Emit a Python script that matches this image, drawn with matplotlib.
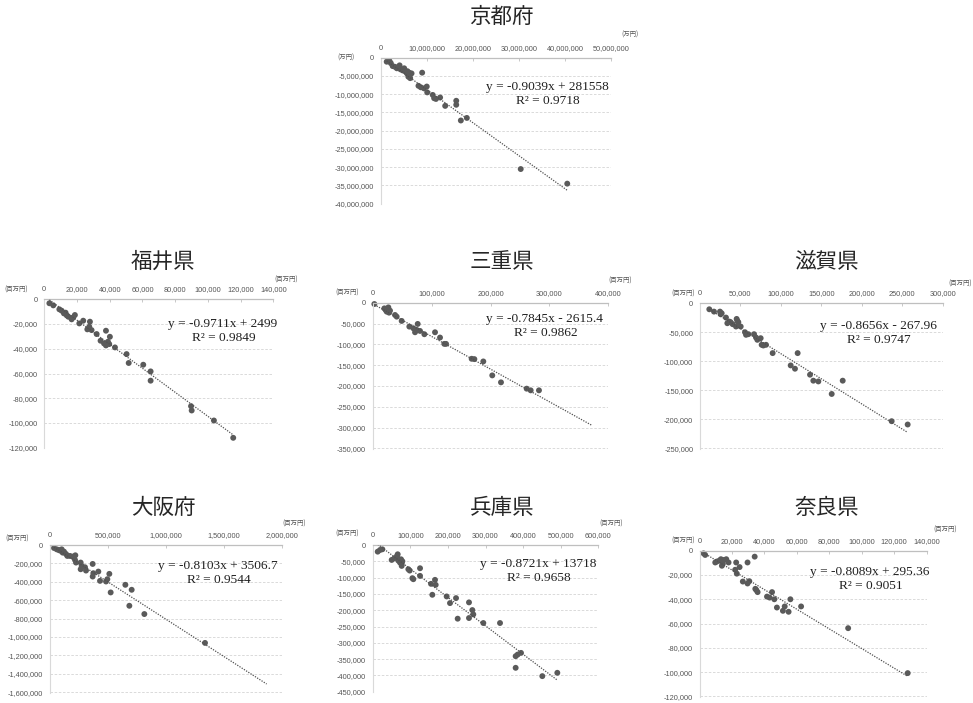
import matplotlib
matplotlib.use("Agg")
import matplotlib.pyplot as plt
from matplotlib.ticker import FuncFormatter, MultipleLocator

W, H = 973, 703

# ---- data: x = 収入側, y = 支出側 (negative) ----
kyoto_x = [1.3e6, 1.9e6, 2.2e6, 2.6e6, 3.1e6, 3.5e6, 3.8e6, 4.1e6, 4.3e6, 4.8e6, 5.1e6,
           5.4e6, 5.7e6, 5.8e6, 6.0e6, 6.2e6, 6.4e6, 6.7e6, 9.0e6, 8.2e6, 8.7e6, 9.4e6,
           10.0e6, 10.1e6, 11.3e6, 11.6e6, 12.0e6, 12.9e6, 14.0e6, 16.4e6, 16.4e6,
           17.4e6, 18.7e6, 30.4e6, 40.5e6]
kyoto_y = [-1.1e6, -0.9e6, -1.5e6, -2.3e6, -2.5e6, -2.9e6, -2.6e6, -2.1e6, -3.2e6, -3.5e6,
           -2.9e6, -3.8e6, -4.3e6, -3.7e6, -5.2e6, -4.1e6, -5.6e6, -4.3e6, -4.1e6, -7.7e6,
           -8.1e6, -8.4e6, -7.9e6, -9.5e6, -10.2e6, -11.1e6, -11.3e6, -10.9e6, -13.2e6,
           -11.8e6, -12.9e6, -17.2e6, -16.5e6, -30.5e6, -34.5e6]

fukui_x = [3100, 5500, 9200, 10600, 12000, 13000, 13700, 14700, 16700, 17700, 18700, 21400,
           23800, 26300, 27900, 27500, 28900, 32000, 34400, 36500, 37700, 37700, 38900,
           39700, 40100, 43200, 50300, 51600, 60500, 65000, 65000, 89700, 90100, 103700,
           115500]
fukui_y = [-3200, -4900, -8100, -9200, -11400, -10800, -13000, -14100, -16200, -14600,
           -12700, -19500, -17300, -24300, -18100, -22200, -24900, -28100, -33500, -35700,
           -25400, -37300, -34300, -36200, -30300, -38900, -44300, -51500, -52900, -58300,
           -65800, -86400, -89900, -98000, -112000]

mie_x = [2800, 19800, 22000, 23800, 25500, 26600, 27700, 29400, 37900, 40700, 49200, 62200,
         69000, 71900, 74700, 76400, 80300, 87700, 105800, 114300, 121600, 124500, 168000,
         172600, 187800, 203000, 217800, 261400, 268200, 282300]
mie_y = [-3200, -13600, -17500, -21500, -15100, -11200, -23900, -19100, -29500, -33500,
         -43800, -57400, -61400, -71000, -65400, -51000, -67800, -75700, -71000, -83700,
         -98900, -98900, -134700, -135500, -141100, -174600, -191300, -206500, -210500,
         -210500]

shiga_x = [11500, 17300, 24700, 25500, 26800, 32100, 33800, 36300, 37900, 40400, 45300,
           46200, 44500, 47400, 50300, 55600, 56900, 59800, 66800, 69200, 70900, 75000,
           76200, 78300, 81600, 89800, 120700, 112100, 117400, 136000, 140100, 146300,
           162800, 176400, 236900, 256700]
shiga_y = [-10300, -14300, -14300, -18900, -17200, -24600, -34300, -31500, -32600, -36000,
           -26900, -30300, -40000, -32600, -40000, -49800, -54300, -53200, -53200, -58900,
           -62900, -60100, -71500, -72700, -71500, -85800, -85800, -107000, -112700,
           -123000, -133300, -134600, -156200, -133300, -203100, -208800]

osaka_x = [34500, 57600, 74800, 86300, 100700, 109400, 120900, 138100, 149600, 172700,
           195700, 218700, 215800, 224500, 264700, 273400, 264700, 302200, 310800, 368300,
           374100, 368300, 417300, 431700, 483500, 495000, 512200, 523700, 650400, 684900,
           705000, 814400, 1338000]
osaka_y = [-32500, -47000, -54000, -61000, -47000, -83000, -72000, -97500, -119000, -119000,
           -126000, -112000, -162500, -191000, -191000, -227500, -263600, -242000, -278000,
           -206000, -307000, -343000, -289000, -390000, -397000, -372000, -314000, -516000,
           -433000, -661000, -487000, -751000, -1065000]

hyogo_x = [13300, 19500, 25700, 50500, 57600, 64700, 66500, 68200, 72700, 75300, 77100,
           78900, 77100, 94800, 98400, 105500, 108100, 125900, 125900, 155100, 158600,
           165700, 167500, 196700, 205600, 221600, 226000, 256100, 256100, 265000, 267600,
           294200, 338600, 380200, 385500, 394400, 380200, 451100, 491000]
hyogo_y = [-20400, -15300, -13200, -45800, -40700, -33600, -28500, -47900, -54000, -43800,
           -58000, -49900, -64100, -74300, -78400, -101800, -104900, -71300, -94700,
           -119100, -152700, -106900, -122200, -157800, -178200, -162900, -226000, -176000,
           -224000, -199600, -212900, -239300, -239300, -341000, -336000, -330900, -376700,
           -402200, -392000]

nara_x = [2500, 3500, 9700, 10700, 12300, 13200, 13800, 14400, 15200, 16500, 17900, 22000,
          22600, 23000, 24700, 26700, 29600, 29600, 30700, 34000, 34400, 35000, 35800,
          41600, 43200, 44700, 46100, 47700, 51400, 52500, 54900, 56000, 62600, 91600,
          128300]
nara_y = [-2200, -3500, -9700, -8900, -8100, -7000, -12400, -10800, -7600, -7000, -9700,
          -15700, -9700, -18900, -13500, -25400, -9700, -27000, -25100, -4900, -31400,
          -32400, -34100, -37800, -38600, -34100, -40000, -46800, -49500, -45900, -50300,
          -40000, -45900, -63800, -100800]

# trend line coefficients (y = a x + b) and R^2
kyoto_fit = (-0.9039, 281558, 0.9718)
fukui_fit = (-0.9711, 2499, 0.9849)
mie_fit = (-0.7845, -2615.4, 0.9862)
shiga_fit = (-0.8656, -267.96, 0.9747)
osaka_fit = (-0.8103, 3506.7, 0.9544)
hyogo_fit = (-0.8721, 13718, 0.9658)
nara_fit = (-0.8089, 295.36, 0.9051)

# forward forecast end of the trend line (None = last data point)
mie_forecast_to = 372000
osaka_forecast_to = 1870000

plt.rcParams["font.family"] = ["Noto Sans CJK JP", "DejaVu Sans"]

fig = plt.figure(figsize=(W / 100, H / 100), dpi=100)
fig.patch.set_facecolor("white")

TICK_FONT = ["Liberation Sans", "Noto Sans CJK JP"]
EQ_FONT = ["Liberation Serif", "DejaVu Serif"]
TXT_GRAY = "#555555"
DOT = "#5a5a5a"


def fpos(x, y):
    return x / W, 1 - y / H


def panel(title, xs, ys, fit, unit, xmax, xstep, ymin, ystep, box,
          title_xy, eq_xy, unit_left_xy, unit_right_xy, forecast_to=None):
    left, top, right, bottom = box
    ax = fig.add_axes([left / W, 1 - bottom / H, (right - left) / W, (bottom - top) / H])
    ax.set_facecolor("none")
    ax.set_xlim(0, xmax)
    ax.set_ylim(ymin - abs(ymin) * 0.004, 0)

    ax.xaxis.set_major_locator(MultipleLocator(xstep))
    ax.yaxis.set_major_locator(MultipleLocator(ystep))
    fmt = FuncFormatter(lambda v, p: f"{int(round(v)):,}")
    ax.xaxis.set_major_formatter(fmt)
    ax.yaxis.set_major_formatter(fmt)
    ax.xaxis.tick_top()
    ax.tick_params(axis="x", direction="in", length=2.2, width=0.6, color="#bfbfbf",
                   pad=4.4, labelsize=5.3, labelcolor=TXT_GRAY)
    ax.tick_params(axis="y", length=0, pad=4.8, labelsize=5.3, labelcolor=TXT_GRAY)
    for lab in ax.get_xticklabels() + ax.get_yticklabels():
        lab.set_family(TICK_FONT)

    for s in ("right", "bottom"):
        ax.spines[s].set_visible(False)
    ax.spines["left"].set_color("#d9d9d9")
    ax.spines["left"].set_linewidth(0.8)
    ax.spines["top"].set_color("#bfbfbf")
    ax.spines["top"].set_linewidth(0.9)

    ax.yaxis.grid(True, linestyle=(0, (3, 2)), color="#d4d4d4", linewidth=0.6)
    ax.xaxis.grid(False)
    ax.set_axisbelow(True)

    ax.scatter(xs, ys, s=18, color=DOT, edgecolors="none", zorder=2, clip_on=False)

    a, b, r2 = fit
    x0 = min(xs)
    x1 = forecast_to if forecast_to is not None else max(xs)
    ax.plot([x0, x1], [a * x0 + b, a * x1 + b], linestyle=(0, (1, 1.1)),
            color="#505050", linewidth=0.9, zorder=3)

    sign = "+" if b >= 0 else "-"
    eq = f"y = {a}x {sign} {abs(b):g}"
    fig.text(*fpos(*eq_xy), eq, ha="center", va="center", fontsize=9.6,
             family=EQ_FONT, color="#1f1f1f")
    fig.text(*fpos(eq_xy[0] + 1, eq_xy[1] + 14), f"R² = {r2:.4f}", ha="center",
             va="center", fontsize=9.6, family=EQ_FONT, color="#1f1f1f")

    fig.text(*fpos(*title_xy), title, ha="center", va="center", fontsize=15.5,
             color="#262626")
    fig.text(*fpos(*unit_left_xy), unit, ha="center", va="center", fontsize=4.6,
             color=TXT_GRAY)
    fig.text(*fpos(*unit_right_xy), unit, ha="center", va="center", fontsize=4.6,
             color=TXT_GRAY)
    return ax


panel("京都府", kyoto_x, kyoto_y, kyoto_fit, "(万円)", 50_000_000, 10_000_000,
      -40_000_000, 5_000_000, (380.7, 57.7, 611, 204.3), (501.7, 16.7), (547, 87),
      (345.7, 57.7), (630, 35))

panel("福井県", fukui_x, fukui_y, fukui_fit, "(百万円)", 140_000, 20_000,
      -120_000, 20_000, (44.3, 299.3, 273.3, 448.3), (163, 261.7), (223, 324),
      (15.7, 290), (286, 279.3))

panel("三重県", mie_x, mie_y, mie_fit, "(百万円)", 400_000, 100_000,
      -350_000, 50_000, (372.7, 302.7, 608.3, 449), (501.7, 262), (545, 319),
      (346.7, 292.7), (620, 281), forecast_to=mie_forecast_to)

panel("滋賀県", shiga_x, shiga_y, shiga_fit, "(百万円)", 300_000, 50_000,
      -250_000, 50_000, (700, 303.3, 942.7, 449), (826.7, 262), (878, 326),
      (683, 293.3), (960, 283.3))

panel("大阪府", osaka_x, osaka_y, osaka_fit, "(百万円)", 2_000_000, 500_000,
      -1_600_000, 200_000, (50, 545, 281.7, 692.7), (163.3, 508), (218, 566),
      (17.3, 538.3), (294, 523.3), forecast_to=osaka_forecast_to)

panel("兵庫県", hyogo_x, hyogo_y, hyogo_fit, "(百万円)", 600_000, 100_000,
      -450_000, 50_000, (372.7, 545, 598.3, 692.3), (501.7, 508), (538, 564),
      (346.7, 533.3), (610.7, 523.3))

panel("奈良県", nara_x, nara_y, nara_fit, "(百万円)", 140_000, 20_000,
      -120_000, 20_000, (699.5, 550.7, 926.7, 697), (826.7, 508), (870, 572),
      (683, 541), (945, 529.3))

fig.savefig("out.png", dpi=100, facecolor="white")
